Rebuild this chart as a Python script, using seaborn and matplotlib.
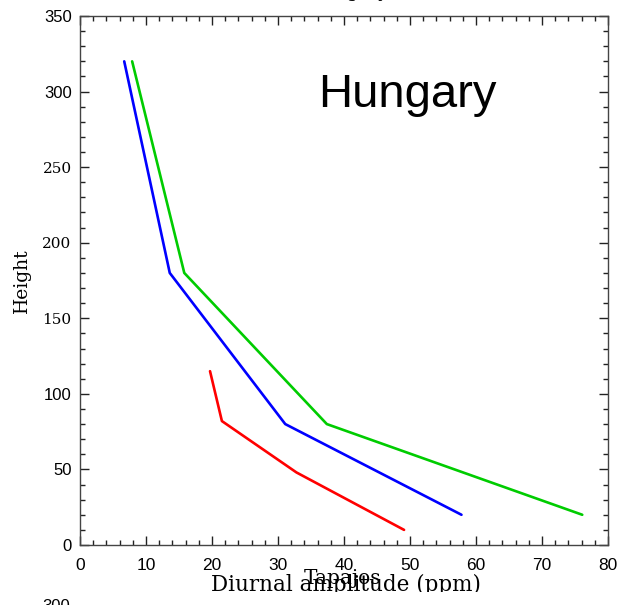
import numpy as np
import pandas as pd
import matplotlib
matplotlib.use("Agg")
import matplotlib.pyplot as plt
from matplotlib.patches import Rectangle
from matplotlib.ticker import MultipleLocator
import seaborn as sns

# Diurnal amplitude profiles (ppm) against measurement height
heights_upper = [320, 180, 80, 20]
amp_blue = [6.7, 13.6, 31.1, 57.8]
amp_green = [7.9, 15.8, 37.4, 76.1]
heights_red = [115, 82, 48, 10]
amp_red = [19.7, 21.5, 32.8, 49.1]

site_name = "Hungary"
next_site = "Tapajos"
x_label = "Diurnal amplitude (ppm)"
y_label = "Height"

SERIF = "DejaVu Serif"
SANS = "Liberation Sans"

sns.set_theme(style="ticks")
plt.rcParams["font.family"] = [SANS, "DejaVu Sans"]

W, H = 625, 605
fig = plt.figure(figsize=(W / 100, H / 100), dpi=100)
ax = fig.add_axes([80 / W, 1 - 545 / H, 528 / W, 529 / H])

profiles = pd.concat([
    pd.DataFrame({"amp": amp_blue, "height": heights_upper, "series": "blue"}),
    pd.DataFrame({"amp": amp_green, "height": heights_upper, "series": "green"}),
    pd.DataFrame({"amp": amp_red, "height": heights_red, "series": "red"}),
])
palette = {"blue": "#0000ff", "green": "#00cc00", "red": "#ff0000"}
sns.lineplot(data=profiles, x="amp", y="height", hue="series", palette=palette,
             sort=False, estimator=None, linewidth=1.9, legend=False, ax=ax)

ax.set_xlim(0, 80)
ax.set_ylim(0, 350)
ax.xaxis.set_major_locator(MultipleLocator(10))
ax.xaxis.set_minor_locator(MultipleLocator(2))
ax.yaxis.set_major_locator(MultipleLocator(50))
ax.yaxis.set_minor_locator(MultipleLocator(10))
ax.tick_params(which="both", direction="in", top=True, right=True,
               color="#222222", width=1.0)
ax.tick_params(which="major", length=6.5)
ax.tick_params(which="minor", length=3.8)
ax.tick_params(axis="x", which="major", pad=9, labelsize=12.5, labelcolor="black")
ax.tick_params(axis="y", which="major", pad=6, labelsize=12, labelcolor="black")
for side in ax.spines.values():
    side.set_visible(True)
    side.set_color("#444444")
    side.set_linewidth(1.0)

fig.canvas.draw()
serif_y = {"150", "200", "250"}
for lab in ax.get_yticklabels():
    if lab.get_text() in serif_y:
        lab.set_fontfamily(SERIF)
        lab.set_fontsize(11)

ax.set_ylabel(y_label, family=SERIF, fontsize=13.5, color="black")
ax.yaxis.set_label_coords(-0.092, 0.5)
ax.set_xlabel(x_label, family=SERIF, fontsize=15.5, color="black", va="baseline")
ax.xaxis.set_label_coords(0.504, (545 - 591) / 529)

ax.text(407 / W, 1 - 107 / H, site_name, transform=fig.transFigure,
        ha="center", va="baseline", fontsize=34, family=SANS, color="black")

# title of this panel (sits above the frame) and pieces of the panel below
fig.text(348 / W, 1 + 3 / H, site_name, ha="center", va="baseline",
         fontsize=13, family=SERIF, color="black")
fig.text(343 / W, (H - 584) / H, next_site, ha="center", va="baseline",
         fontsize=14.5, family=SERIF, color="black", zorder=5)
fig.patches.append(Rectangle((0, 0), 1, (H - 592) / H, transform=fig.transFigure,
                             facecolor="white", edgecolor="none", zorder=6))
fig.text(70 / W, (H - 611) / H, "300", ha="right", va="baseline",
         fontsize=12, family=SANS, color="black", zorder=7)

fig.savefig("out.png", dpi=100)
